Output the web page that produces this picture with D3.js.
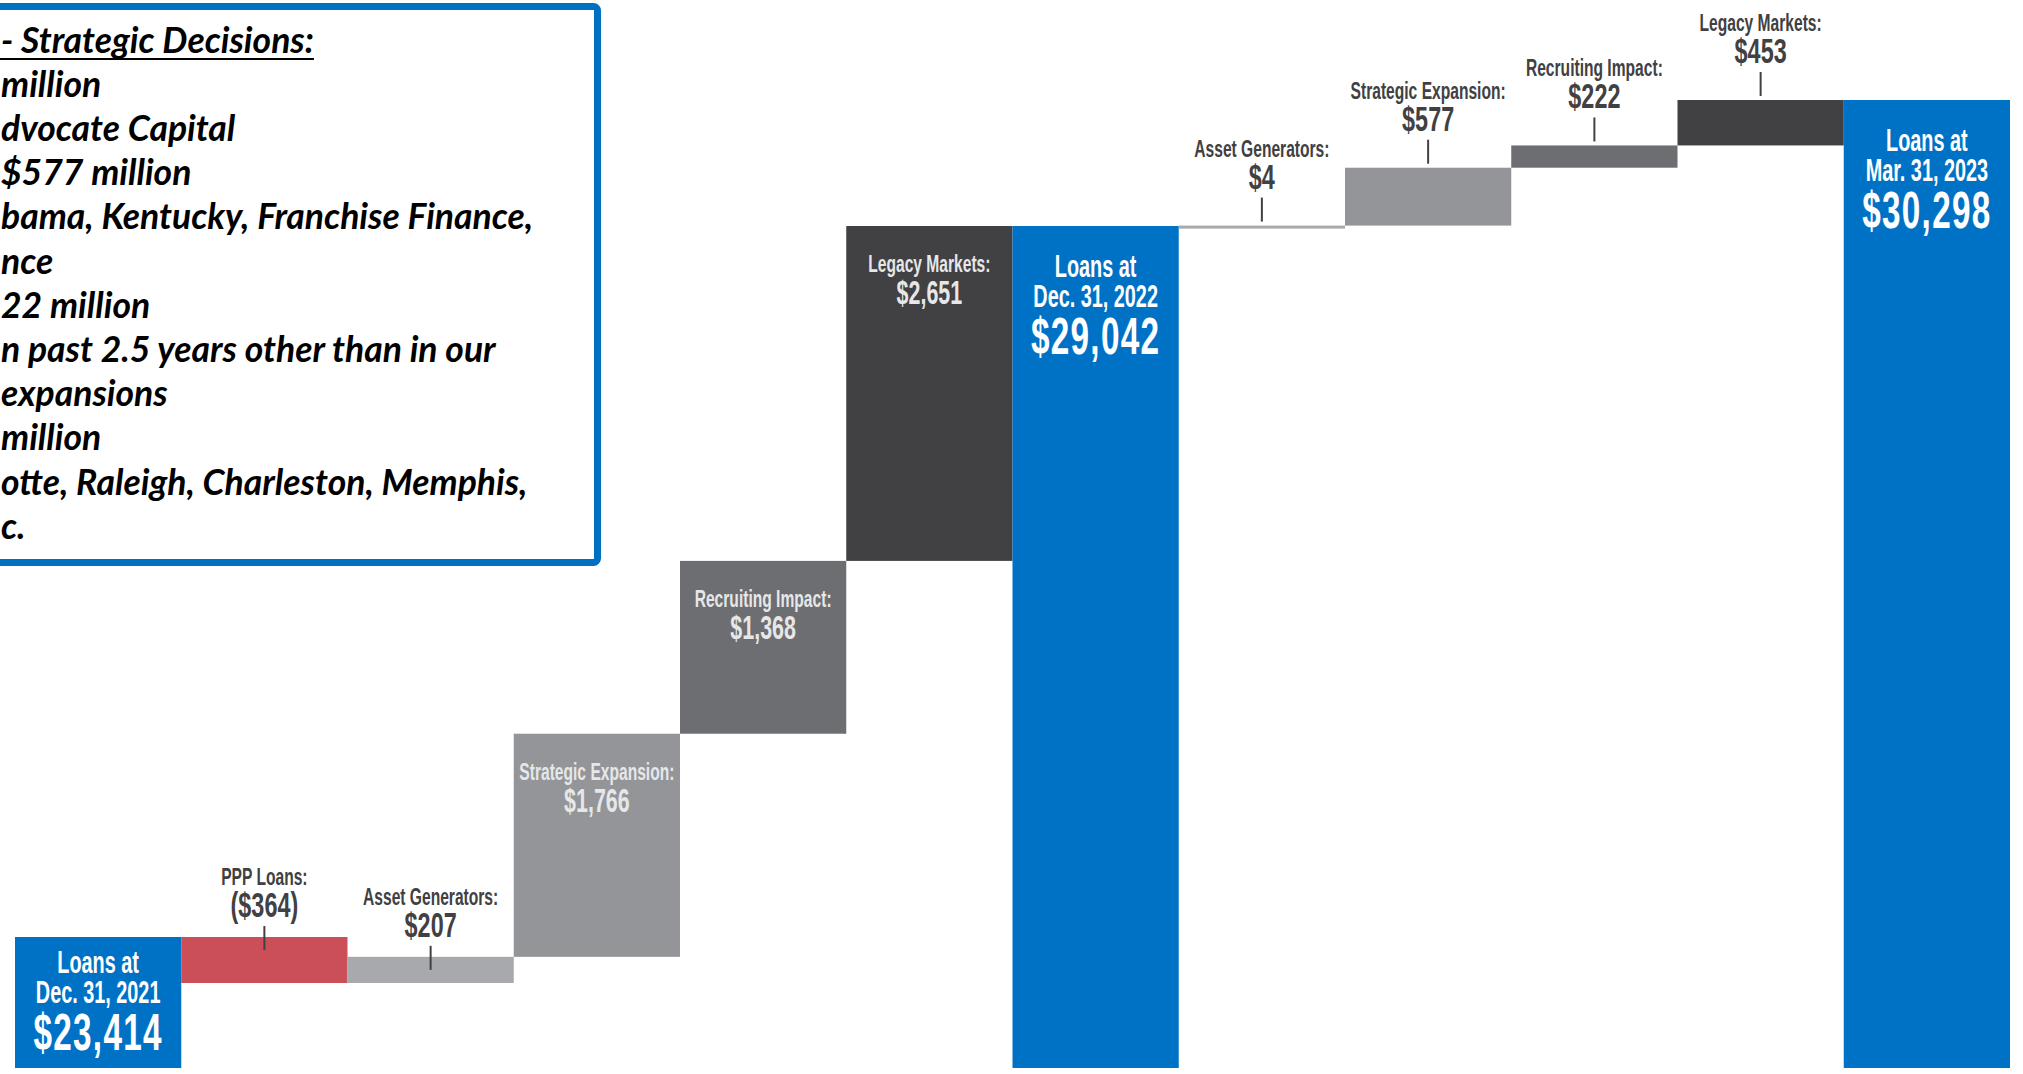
<!DOCTYPE html>
<html>

<head>
    <meta charset="UTF-8" />
    <title>loan growth waterfall</title>
    <style>
        body {
            margin: 0;
            padding: 0;
            background: #fff;
            overflow: hidden;
        }

        svg {
            display: block;
        }

        .bar-text {
            font-family: 'Liberation Sans', Arial, sans-serif;
            font-weight: bold;
        }

        .note {
            font-family: Lato, 'Open Sans', sans-serif;
            font-weight: bold;
            font-style: italic;
        }
    </style>
</head>

<body>
    <div class="container"></div>

    <script src="https://cdnjs.cloudflare.com/ajax/libs/d3/7.8.5/d3.min.js"></script>
    <script>
        const w = 2023;
        const h = 1074;

        // waterfall steps, left to right
        const categories = ["Loans at", "PPP Loans:", "Asset Generators:", "Strategic Expansion:", "Recruiting Impact:",
            "Legacy Markets:", "Loans at", "Asset Generators:", "Strategic Expansion:", "Recruiting Impact:",
            "Legacy Markets:", "Loans at"];
        const values = [23414, -364, 207, 1766, 1368, 2651, 29042, 4, 577, 222, 453, 30298];
        const kinds = ["total", "ppp", "asset", "strategic", "recruiting", "legacy",
            "total", "asset", "strategic", "recruiting", "legacy", "total"];
        const totalDates = ["Dec. 31, 2021", "Dec. 31, 2022", "Mar. 31, 2023"];
        // 0 = 2022 full year, 1 = Q1 2023 (drawn on its own scale)
        const panels = [0, 0, 0, 0, 0, 0, 0, 1, 1, 1, 1, 1];

        // text box, left edge is cut off in the source
        const noteLines = ["- Strategic Decisions:", "million", "dvocate Capital", "$577 million",
            "bama, Kentucky, Franchise Finance,", "nce", "22 million", "n past 2.5 years other than in our",
            "expansions", "million", "otte, Raleigh, Charleston, Memphis,", "c."];

        const colors = {
            total: "#0072c6",
            ppp: "#cb4f58",
            asset: "#a7a9ac",
            strategic: "#939598",
            recruiting: "#6d6e71",
            legacy: "#414042"
        };

        const svg = d3.select(".container").append('svg')
            .attr('width', w)
            .attr('height', h);

        const baseY = 1068;

        const x = d3.scaleBand().domain(d3.range(values.length)).range([15, 2010]).padding(0);
        const yLeft = d3.scaleLinear().domain([23414, 29042]).range([937, 226]);
        const yRight = d3.scaleLinear().domain([29042, 30298]).range([226, 100]);

        const fmt = d3.format("($,");

        // running totals
        let run = 0;
        let t = 0;
        const rows = values.map((v, i) => {
            const ys = panels[i] === 0 ? yLeft : yRight;
            let r;
            if (kinds[i] === "total") {
                r = { top: ys(v), bottom: baseY, date: totalDates[t++] };
                run = v;
            } else {
                const a = ys(run), b = ys(run + v);
                const top = Math.min(a, b);
                r = { top: top, bottom: top + Math.max(3, Math.abs(a - b)) };
                run += v;
            }
            r.i = i;
            r.v = v;
            r.kind = kinds[i];
            r.name = categories[i];
            r.panel = panels[i];
            return r;
        });

        svg.append('g').selectAll('rect')
            .data(rows)
            .join('rect')
            .attr('x', d => x(d.i))
            .attr('y', d => d.top)
            .attr('width', x.bandwidth())
            .attr('height', d => d.bottom - d.top)
            .attr('fill', d => colors[d.kind]);

        // one text per label, lines as tspans
        // source font is a tall condensed gothic, so squeeze horizontally
        function block(g, cx, y, sx, color, lines) {
            const el = g.append('text')
                .attr('class', 'bar-text')
                .attr('transform', `translate(${cx},${y}) scale(${sx},1)`)
                .attr('text-anchor', 'middle')
                .attr('fill', color);
            lines.forEach(l => {
                el.append('tspan')
                    .attr('x', 0)
                    .attr('dy', l.dy)
                    .style('font-size', l.size + 'px')
                    .style('letter-spacing', (l.ls || 0) + 'px')
                    .text(l.s);
            });
            return el;
        }

        const labels = svg.append('g');
        rows.forEach(d => {
            const cx = x(d.i) + x.bandwidth() / 2;
            const hgt = d.bottom - d.top;
            if (d.kind === "total") {
                const pad = hgt < 200 ? 0 : 15;
                block(labels, cx, d.top + 36 + pad, 0.64, "#fff", [
                    { s: d.name, dy: 0, size: 31 },
                    { s: d.date, dy: 30, size: 31 },
                    { s: fmt(d.v), dy: 47, size: 52, ls: 2 }
                ]);
            } else if (hgt > 100) {
                block(labels, cx, d.top + 46, 0.65, "#e6e7e8", [
                    { s: d.name, dy: 0, size: 24 },
                    { s: fmt(d.v), dy: 32, size: 33 }
                ]);
            } else {
                const lift = d.panel === 1 ? 17 : 0;
                block(labels, cx, d.top - 52 - lift, 0.65, "#414042", [
                    { s: d.name, dy: 0, size: 24 },
                    { s: fmt(d.v), dy: 32, size: 36 }
                ]);
                labels.append('line')
                    .attr('x1', cx).attr('x2', cx)
                    .attr('y1', d.top - 11 - lift)
                    .attr('y2', d.top + 13 - lift)
                    .attr('stroke', '#414042')
                    .attr('stroke-width', 2);
            }
        });

        // note box
        const note = svg.append('g');
        note.append('rect')
            .attr('x', -20)
            .attr('y', 6.5)
            .attr('width', 617.5)
            .attr('height', 556)
            .attr('rx', 4)
            .attr('fill', '#fff')
            .attr('stroke', '#0070c0')
            .attr('stroke-width', 7);

        note.selectAll('text')
            .data(noteLines)
            .join('text')
            .attr('class', 'note')
            .attr('x', 1)
            .attr('y', (d, i) => 52.5 + i * 44.2)
            .style('font-size', '35.5px')
            .attr('fill', '#000')
            .text(d => d);

        const first = note.select('text').node();
        note.append('line')
            .attr('x1', 0)
            .attr('x2', first.getComputedTextLength() + 1)
            .attr('y1', 59)
            .attr('y2', 59)
            .attr('stroke', '#000')
            .attr('stroke-width', 2);
    </script>
</body>

</html>
